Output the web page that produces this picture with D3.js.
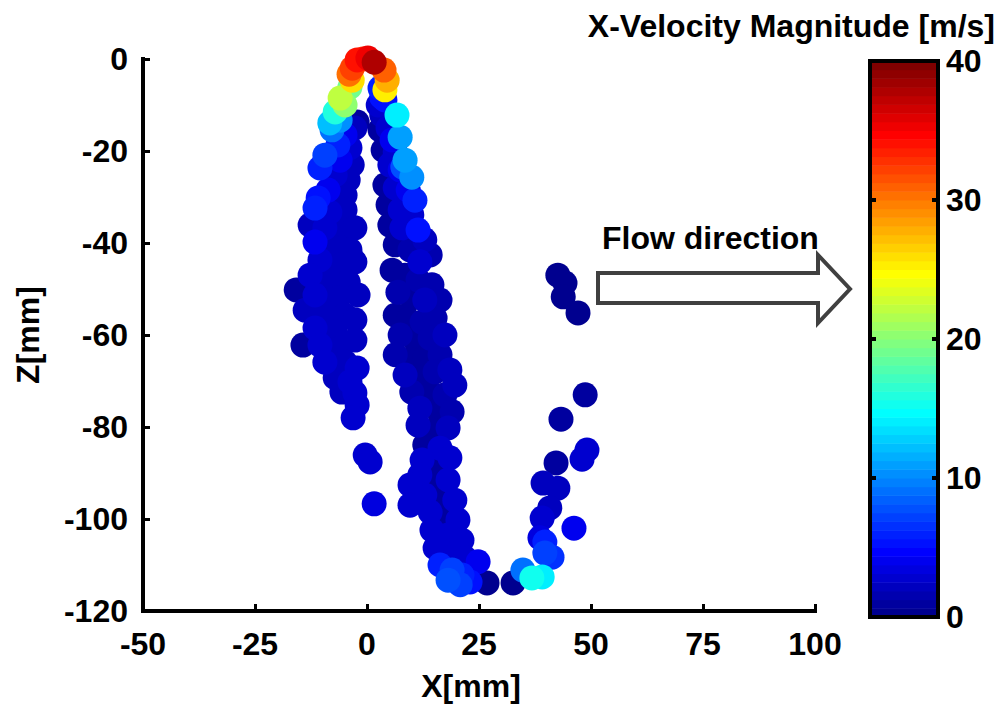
<!DOCTYPE html>
<html>
<head>
<meta charset="utf-8">
<script src="https://cdn.jsdelivr.net/npm/d3@7/dist/d3.min.js"></script>
<style>
  html, body { margin: 0; padding: 0; background: #fff; }
  svg text { font-family: "Liberation Sans", Arial, sans-serif; font-weight: bold; }
</style>
</head>
<body>
<svg id="chart" width="1000" height="706"></svg>
<script>
// Particle positions (mm) and their X-velocity magnitude (m/s)
const xs = [
  // left branch
  -6.0,-7.8,-4.9,-2.7,-6.5,-3.8,-9.4,-6.0,-3.3,-10.5,-7.1,-4.2,-8.7,-4.9,-10.9,
  -11.6,-8.3,-4.9,-12.7,-9.4,-6.0,-2.7,-11.6,-7.1,-3.8,-10.5,-6.0,-2.7,-12.7,-8.3,
  -4.2,-15.8,-11.6,-6.5,-2.0,-13.8,-9.4,-4.9,-2.7,-11.6,-7.1,-14.3,-10.5,-6.0,-2.7,
  -9.4,-4.9,-2.2,-7.1,-3.8,-5.6,-2.7,-2.2,-3.1,-0.4,0.7,1.6,
  // right branch
  2.9,4.0,2.5,2.9,4.7,5.6,3.6,6.3,5.1,7.4,4.0,6.3,9.2,10.7,4.7,7.4,10.0,5.1,7.8,11.4,
  12.9,6.3,9.6,14.1,11.8,5.6,8.5,11.4,14.5,6.9,10.0,16.3,12.9,6.3,9.2,12.3,15.2,7.4,10.7,14.1,
  17.4,6.3,9.6,12.9,16.3,18.5,8.5,11.8,15.2,10.0,13.6,17.4,19.6,11.8,15.8,19.0,11.4,14.5,18.1,12.9,
  16.3,12.3,15.4,18.5,11.8,15.2,18.1,9.6,12.9,16.3,9.6,19.6,14.1,17.4,20.3,14.5,18.1,21.2,15.2,18.5,
  21.9,24.8,16.3,19.0,21.2,18.1,23.0,26.8,20.8,32.6,
  // outer right group
  42.6,44.2,43.8,47.1,48.7,43.3,49.1,48.0,42.2,39.3,42.6,40.8,39.1,46.2,38.6,39.7,41.3,39.7,34.8,36.8,39.1,
  // apex
  -2.2,-0.9,0.2,-3.3,-4.0,3.8,4.5,4.0,-3.3,-3.8,-6.0,-4.9,-7.1,-8.3,-2.2,3.3,3.3,6.7,7.4,8.5,10.0,8.0,1.6
];
const zs = [
  -13.3,-15.4,-16.5,-15.0,-18.7,-19.3,-20.9,-22.0,-23.0,-23.7,-25.2,-26.3,-28.5,-29.6,-30.2,
  -32.4,-33.3,-32.8,-36.1,-36.7,-37.6,-36.7,-39.8,-41.1,-41.5,-43.7,-44.8,-44.1,-47.0,-48.0,
  -48.5,-50.2,-51.3,-52.0,-51.3,-54.6,-55.0,-55.7,-56.7,-58.5,-59.3,-62.2,-62.2,-62.8,-61.1,
  -65.9,-65.9,-67.2,-69.3,-70.2,-72.4,-72.6,-75.2,-78.0,-86.1,-87.6,-96.7,
  -6.3,-8.9,-10.0,-15.4,-15.0,-17.6,-19.8,-20.2,-23.0,-24.1,-27.4,-28.0,-28.5,-30.7,-31.7,-32.8,-33.9,-36.1,-36.7,-37.2,
  -39.3,-40.4,-41.5,-42.6,-44.1,-45.9,-47.0,-48.0,-49.1,-50.7,-52.0,-52.4,-52.4,-55.7,-56.7,-57.2,-56.3,-60.0,-61.1,-60.7,
  -60.0,-64.3,-65.4,-65.0,-64.3,-67.6,-68.7,-69.3,-68.0,-72.4,-72.0,-73.0,-70.9,-75.9,-76.3,-76.7,-79.6,-80.7,-80.2,-83.9,
  -84.6,-87.2,-87.6,-86.7,-90.4,-91.1,-91.5,-92.6,-94.8,-94.1,-97.0,-95.9,-98.5,-99.1,-100.2,-102.4,-103.5,-104.6,-106.3,-107.2,
  -108.5,-109.3,-110.0,-111.1,-112.2,-113.3,-113.7,-113.9,-114.3,-113.9,
  -47.0,-48.7,-51.7,-55.2,-73.0,-78.3,-85.0,-87.0,-87.8,-92.2,-93.3,-97.6,-99.8,-102.0,-104.1,-105.0,-108.3,-107.4,-111.1,-112.8,-112.6,
  -0.2,0.0,0.2,-2.0,-3.3,-2.4,-4.6,-6.7,-4.6,-6.1,-8.5,-10.0,-11.5,-13.9,-13.7,-8.3,-12.2,-12.2,-17.0,-22.0,-25.7,-23.5,-0.7
];
const vs = [
  10,9,4,2,6,3,7,4,2,6,3,2,4,2,5,
  6,3,2,2,3,2,2,4,2,2,3,2,2,3,2,
  2,1,3,2,2,2,2,2,2,3,2,1,3,2,2,
  3,2,3,2,3,2,3,3,3,3,3,3.5,
  6,5,3,1,3,4,1,3,2.5,4,1,2.5,4,6,1,2.5,3,1,2.5,5,
  2,1,1.5,1.5,3,1,1,1.5,1.5,1.5,1,1.5,2,1,1,1.5,1.5,1.5,1,1.5,
  2,1.5,1,1,1.5,2,2,1,1.5,1.5,1,1.5,2,2,1,1.5,2,1,2,1,
  2.5,2.5,1,2.5,2.5,1,2.5,3,2.5,1,3,2.5,2.5,1,2.5,3,2.5,3,3,2.5,
  3,4,6,7,6,8,5,0.5,7,0.5,
  0.5,0.5,0.5,0.5,1,1,2.5,2.5,1,2,2,2,3,4,3.5,6,6.5,7,9,15,14,
  34,33,35,32,30,31,28,25,26,19,22,20,16,12,1,5,2,14,11,11,10,8,38
];

const xTicks = [-50, -25, 0, 25, 50, 75, 100];
const zTicks = [0, -20, -40, -60, -80, -100, -120];
const cTicks = [0, 10, 20, 30, 40];

const svg = d3.select("#chart");
const fontSize = 32;

// MATLAB-style jet colormap with 64 levels
const nLevels = 64;
function jet(t) {
  const c = v => Math.max(0, Math.min(1, v));
  const r = c(1.5 - Math.abs(4 * t - 3));
  const g = c(1.5 - Math.abs(4 * t - 2));
  const b = c(1.5 - Math.abs(4 * t - 1));
  return d3.rgb(r * 255, g * 255, b * 255).formatHex();
}
const vMax = 40;
function colorOf(v) {
  const idx = Math.max(1, Math.min(nLevels, Math.floor(v / vMax * nLevels) + 1));
  return jet(idx / nLevels);
}

const x = d3.scaleLinear().domain([-50, 100]).range([143, 815]);
const z = d3.scaleLinear().domain([-120, 0]).range([611, 59]);

// scatter points, low velocities underneath
const pts = xs.map((d, i) => ({ x: d, z: zs[i], v: vs[i] }))
  .sort((a, b) => a.v - b.v);
svg.append("g").selectAll("circle")
  .data(pts).join("circle")
  .attr("cx", d => x(d.x))
  .attr("cy", d => z(d.z))
  .attr("r", 12.5)
  .attr("fill", d => colorOf(d.v));

// axes with inward ticks
const xAxis = svg.append("g").attr("transform", "translate(0,611)")
  .call(d3.axisTop(x).tickValues(xTicks).tickSize(7).tickFormat(""));
const zAxis = svg.append("g").attr("transform", "translate(143,0)")
  .call(d3.axisRight(z).tickValues(zTicks).tickSize(7).tickFormat(""));
[xAxis, zAxis].forEach(g => {
  g.select(".domain").attr("stroke", "#000").attr("stroke-width", 4).attr("stroke-linecap", "square");
  g.selectAll(".tick line").attr("stroke", "#000").attr("stroke-width", 3);
});
xAxis.select(".domain").attr("d", "M143,0H815");
zAxis.select(".domain").attr("d", "M0,611V59");

svg.append("g").selectAll("text").data(xTicks).join("text")
  .attr("x", d => x(d)).attr("y", 655)
  .attr("text-anchor", "middle").attr("font-size", fontSize)
  .text(d => d);
svg.append("g").selectAll("text").data(zTicks).join("text")
  .attr("x", 128).attr("y", d => z(d) + 11)
  .attr("text-anchor", "end").attr("font-size", fontSize)
  .text(d => d);

svg.append("text").attr("x", 471).attr("y", 697)
  .attr("text-anchor", "middle").attr("font-size", fontSize).text("X[mm]");
svg.append("text").attr("transform", "translate(39,335) rotate(-90)")
  .attr("text-anchor", "middle").attr("font-size", fontSize).text("Z[mm]");

// colorbar
const cb = { x0: 870, x1: 938 };
const c = d3.scaleLinear().domain([0, vMax]).range([617, 61]);
const levels = d3.range(nLevels);
svg.append("g").selectAll("rect").data(levels).join("rect")
  .attr("x", cb.x0).attr("width", cb.x1 - cb.x0)
  .attr("y", i => c((i + 1) * vMax / nLevels))
  .attr("height", i => c(i * vMax / nLevels) - c((i + 1) * vMax / nLevels) + 0.5)
  .attr("fill", i => jet((i + 1) / nLevels));
svg.append("rect").attr("x", cb.x0).attr("y", c(vMax)).attr("width", cb.x1 - cb.x0)
  .attr("height", c(0) - c(vMax)).attr("fill", "none").attr("stroke", "#000").attr("stroke-width", 4);
const inner = cTicks.filter(t => t > 0 && t < vMax);
svg.append("g").selectAll("path").data(inner).join("path")
  .attr("d", t => `M${cb.x0},${c(t)}h6M${cb.x1},${c(t)}h-6`)
  .attr("stroke", "#000").attr("stroke-width", 4);
svg.append("g").selectAll("text").data(cTicks).join("text")
  .attr("x", 946).attr("y", t => c(t) + 11)
  .attr("font-size", fontSize).text(t => t);

svg.append("text").attr("x", 995).attr("y", 37)
  .attr("text-anchor", "end").attr("font-size", fontSize).text("X-Velocity Magnitude [m/s]");

// flow direction arrow
svg.append("path")
  .attr("d", "M598,273H818V255L850,289L818,323V303H598Z")
  .attr("fill", "#fff").attr("stroke", "#404040").attr("stroke-width", 4);
svg.append("text").attr("x", 602).attr("y", 249)
  .attr("font-size", fontSize).text("Flow direction");
</script>
</body>
</html>
